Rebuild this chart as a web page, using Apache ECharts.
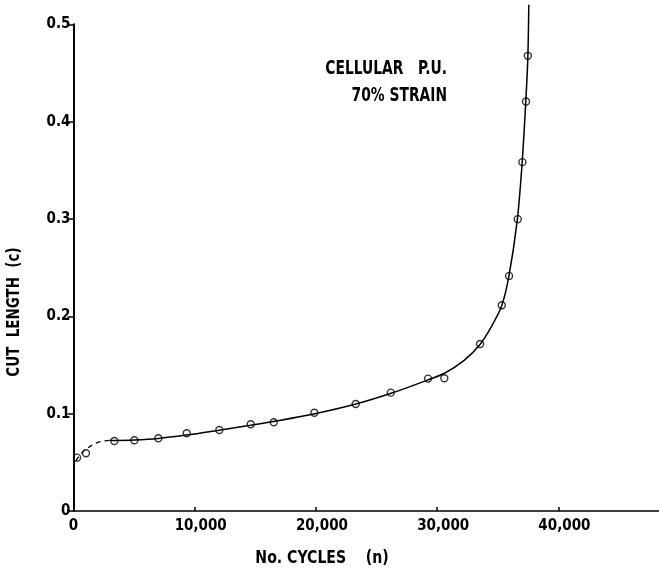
<!DOCTYPE html>
<html>
<head>
<meta charset="utf-8">
<script src="https://cdn.jsdelivr.net/npm/echarts@6/dist/echarts.min.js"></script>
<style>
  html, body { margin: 0; padding: 0; background: #fff; }
  #chart { width: 659px; height: 574px; }
</style>
</head>
<body>
<div id="chart"></div>
<script>
// Measured specimens: number of cycles vs. cut length
var pointCycles = [290, 1030, 3370, 5020, 7000, 9340, 12030, 14620, 16520, 19870, 23280, 26170, 29250, 30590, 33540, 35330, 35930, 36650, 37030, 37330, 37480];
var pointCut    = [0.0548, 0.0593, 0.0719, 0.0727, 0.0747, 0.0799, 0.0832, 0.0891, 0.0912, 0.1010, 0.1100, 0.1216, 0.1360, 0.1364, 0.1716, 0.2114, 0.2415, 0.2998, 0.3584, 0.4207, 0.4676];

// Fitted growth curve (solid part)
var curveCycles = [3000, 5000, 7000, 9300, 12000, 14600, 16500, 19900, 23300, 26200, 29200, 30600, 32200, 33500, 34500, 35300, 35900, 36600, 37000, 37300, 37480, 37560];
var curveCut    = [0.0725, 0.0730, 0.0745, 0.0780, 0.0830, 0.0880, 0.0920, 0.1000, 0.1100, 0.1210, 0.1345, 0.1415, 0.1545, 0.1705, 0.1900, 0.2100, 0.2400, 0.2980, 0.3560, 0.4180, 0.4660, 0.5200];

// Extrapolated start of the curve (dashed part)
var dashCycles = [200, 500, 1000, 1600, 2200, 3000];
var dashCut    = [0.0515, 0.0570, 0.0630, 0.0680, 0.0712, 0.0725];

// Axis ticks
var xTicks = [0, 10000, 20000, 30000, 40000];

function zip(a, b) { return a.map(function (v, i) { return [v, b[i]]; }); }

var FONT = "'Liberation Sans Narrow', 'DejaVu Sans Condensed', 'Arial Narrow', 'DejaVu Sans', sans-serif";

function fmtCycles(v) {
  if (v === 0) return '0';
  var s = String(v);
  return s.slice(0, s.length - 3) + ',' + s.slice(s.length - 3);
}

var chart = echarts.init(document.getElementById('chart'), null, { renderer: 'canvas' });

chart.setOption({
  backgroundColor: '#ffffff',
  animation: false,
  grid: { left: 73.5, right: 0, top: 24.3, bottom: 63, containLabel: false },
  xAxis: {
    type: 'value',
    min: 0,
    max: 48300,
    axisLine: { show: true, onZero: false, lineStyle: { color: '#000', width: 1.5 } },
    axisTick: { show: true, inside: true, length: 4, customValues: xTicks, lineStyle: { color: '#000', width: 1.5 } },
    axisLabel: {
      customValues: xTicks,
      formatter: function (v) { return v === 0 ? '{z|0}' : '{n|' + fmtCycles(v) + '}'; },
      margin: 8,
      rich: {
        z: { fontFamily: FONT, fontWeight: 'bold', fontSize: 15, color: '#000' },
        n: { fontFamily: FONT, fontWeight: 'bold', fontSize: 15, color: '#000', padding: [0, 0, 0, 12] }
      }
    },
    splitLine: { show: false }
  },
  yAxis: {
    type: 'value',
    min: 0,
    max: 0.5,
    interval: 0.1,
    axisLine: { show: true, onZero: false, lineStyle: { color: '#000', width: 2 } },
    axisTick: { show: true, inside: false, length: 6, lineStyle: { color: '#000', width: 1.5 } },
    axisLabel: {
      formatter: function (v) { return v === 0 ? '0' : v.toFixed(1); },
      fontFamily: FONT, fontWeight: 'bold', fontSize: 15, color: '#000', margin: 3
    },
    splitLine: { show: false }
  },
  series: [
    {
      name: 'extrapolated',
      type: 'line',
      data: zip(dashCycles, dashCut),
      smooth: 0.4,
      symbol: 'none',
      lineStyle: { color: '#000', width: 1.3, type: [5, 4] },
      z: 2
    },
    {
      name: 'curve',
      type: 'line',
      data: zip(curveCycles, curveCut),
      smooth: 0.3,
      symbol: 'none',
      clip: false,
      lineStyle: { color: '#000', width: 1.5 },
      z: 2
    },
    {
      name: 'measured',
      type: 'scatter',
      data: zip(pointCycles, pointCut),
      symbol: 'circle',
      symbolSize: 7,
      clip: false,
      itemStyle: { color: 'rgba(255,255,255,0)', borderColor: '#000', borderWidth: 1.4 },
      z: 3
    }
  ],
  graphic: [
    {
      type: 'text', x: 15, y: 312, rotation: Math.PI / 2, scaleX: 0.88,
      style: { text: 'CUT  LENGTH  (c)', font: 'bold 17px ' + FONT, fill: '#000', align: 'center', verticalAlign: 'middle' }
    },
    {
      type: 'text', x: 322, y: 558, scaleX: 0.87,
      style: { text: 'No. CYCLES    (n)', font: 'bold 18px ' + FONT, fill: '#000', align: 'center', verticalAlign: 'middle' }
    },
    {
      type: 'text', x: 447, y: 69, scaleX: 0.81,
      style: { text: 'CELLULAR   P.U.', font: 'bold 19px ' + FONT, fill: '#000', align: 'right', verticalAlign: 'middle' }
    },
    {
      type: 'text', x: 447, y: 96, scaleX: 0.81,
      style: { text: '70% STRAIN', font: 'bold 19px ' + FONT, fill: '#000', align: 'right', verticalAlign: 'middle' }
    }
  ]
});
</script>
</body>
</html>
